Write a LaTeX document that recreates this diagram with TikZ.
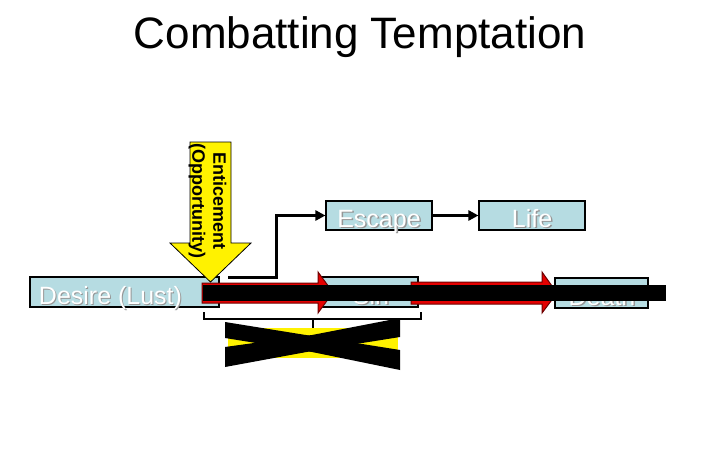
\documentclass[tikz,border=0pt]{standalone}
\usepackage{fontspec}
\setmainfont{Liberation Sans}
\usetikzlibrary{arrows.meta}
\definecolor{boxblue}{RGB}{182,220,226}
\definecolor{arrred}{RGB}{228,0,0}
\definecolor{darkred}{RGB}{110,0,0}
\definecolor{shadowgray}{RGB}{150,150,150}
\begin{document}
\begin{tikzpicture}[x=1pt,y=-1pt,
  box/.style={draw=black, line width=1.1pt, fill=boxblue, inner sep=0pt},
  lbl/.style={font=\fontsize{25}{30}\selectfont, text=white, anchor=base, inner sep=0pt},
  shd/.style={font=\fontsize{25}{30}\selectfont, text=shadowgray, anchor=base, inner sep=0pt},
  conn/.style={line width=3pt, -{Triangle[length=10pt,width=10pt]}},
  redarrow/.style={fill=arrred, draw=darkred, line width=1pt},
  brace/.style={line width=2.5pt}]
\useasboundingbox (0,0) rectangle (720,450);
\fill[white] (0,0) rectangle (720,450);

% title
\node[font=\fontsize{44}{50}\selectfont, anchor=base, inner sep=0pt] (title) at (360,48) {Combatting Temptation};

% boxes
\node[box, minimum width=189pt, minimum height=30pt] (desire) at (124.5,292) {};
\node[box, minimum width=106pt, minimum height=29pt] (escape) at (379,215.5) {};
\node[box, minimum width=106pt, minimum height=29pt] (life) at (532,215.5) {};
\node[box, minimum width=96pt, minimum height=30pt] (sin) at (370,292) {};
\node[box, minimum width=93pt, minimum height=30pt] (death) at (601.5,293) {};

% box labels (white with shadow)
\node[shd] at (111.5,305.5) {Desire (Lust)};
\node[lbl] (desiretxt) at (110.5,304) {Desire (Lust)};
\node[shd] at (380.5,228.5) {Escape};
\node[lbl] (escapetxt) at (379,227) {Escape};
\node[shd] at (533.5,228.5) {Life};
\node[lbl] (lifetxt) at (532,227) {Life};
\node[shd] at (372.5,305.5) {Sin};
\node[lbl] (sintxt) at (371,304) {Sin};
\node[shd] at (603.5,306.5) {Death};
\node[lbl] (deathtxt) at (602,305) {Death};

% enticement arrow
\filldraw[fill=yellow, draw=black, line width=0.8pt]
  (190,142) -- (231,142) -- (231,243) -- (251,243) -- (210.5,282) -- (170,243) -- (190,243) -- cycle;
\node[rotate=-90, font=\fontsize{18}{21}\selectfont\bfseries, align=center, inner sep=0pt] (entice) at (207.5,201) {Enticement\\(Opportunity)};

% connectors
\coordinate (entend) at (228,277);
\coordinate (bend) at (276,277);
\draw[conn] (entend) -- (bend) |- (escape.west);
\draw[conn] (escape.east) -- (life.west);

% red arrows
\filldraw[redarrow] (202,283) -- (318,283) -- (318,272) -- (333,292.5) -- (318,313) -- (318,303) -- (202,303) -- cycle;
\filldraw[redarrow] (411,282) -- (542,282) -- (542,272) -- (557,293) -- (542,313) -- (542,304) -- (411,304) -- cycle;

% black bar
\fill[black] (203,285) rectangle (666,301);

% bracket
\draw[brace] (204,312) -- (204,319) -- (421,319) -- (421,312);
\coordinate (bracemid) at (313,319);
\coordinate (boxtop) at (313,328);
\draw[line width=2pt] (bracemid) -- (boxtop);

% yellow box crossed out
\fill[yellow] (228,328) rectangle (398,358);
\fill[black] (225,322) -- (312,336) -- (400,350) -- (400,370) -- (312,352) -- (225,338) -- cycle;
\fill[black] (225,347) -- (312,335) -- (400,318) -- (400,337) -- (312,351) -- (225,367) -- cycle;
\end{tikzpicture}
\end{document}
